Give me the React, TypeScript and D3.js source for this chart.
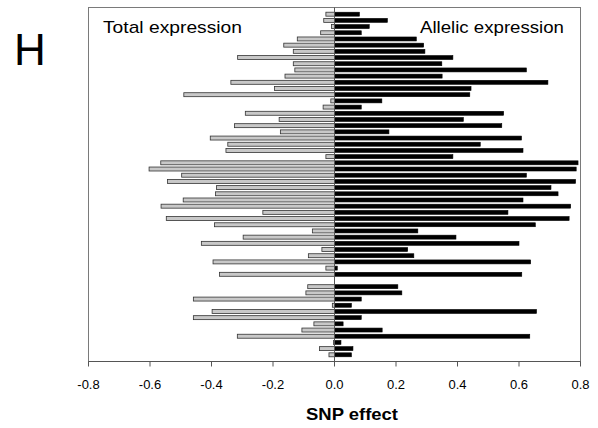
import React from "react";
import * as d3 from "d3";

const totalExpression: (number | null)[] = [
  -0.028, -0.035, -0.010, -0.045, -0.121, -0.165, -0.134, -0.315, -0.134, -0.129,
  -0.161, -0.337, -0.195, -0.490, -0.012, -0.037, -0.290, -0.180, -0.325, -0.176,
  -0.404, -0.347, -0.353, -0.028, -0.565, -0.603, -0.497, -0.543, -0.384, -0.387,
  -0.492, -0.564, -0.233, -0.547, -0.390, -0.072, -0.297, -0.433, -0.041, -0.085,
  -0.395, -0.028, -0.374, null, -0.087, -0.093, -0.459, -0.007, -0.398, -0.459,
  -0.067, -0.106, -0.316, -0.003, -0.049, -0.018,
];
const allelicExpression: (number | null)[] = [
  0.081, 0.172, 0.113, 0.087, 0.266, 0.290, 0.294, 0.385, 0.349, 0.624,
  0.350, 0.694, 0.444, 0.440, 0.154, 0.087, 0.550, 0.419, 0.544, 0.177,
  0.608, 0.474, 0.613, 0.385, 0.792, 0.786, 0.624, 0.784, 0.704, 0.727,
  0.613, 0.768, 0.564, 0.763, 0.653, 0.271, 0.395, 0.600, 0.238, 0.258,
  0.638, 0.009, 0.609, null, 0.206, 0.219, 0.087, 0.055, 0.657, 0.087,
  0.028, 0.155, 0.635, 0.021, 0.060, 0.055,
];
const xTicks = [-0.8, -0.6, -0.4, -0.2, 0, 0.2, 0.4, 0.6, 0.8];

export default function App() {
  const W = 598, H = 428;
  const left = 88.5, right = 580.5, top = 7.5, bottom = 361.5;
  const x = d3.scaleLinear().domain([-0.8, 0.8]).range([left, right]);
  const rows = totalExpression.map((_, i) => i);
  const y = d3.scaleBand<number>().domain(rows).range([top, bottom]).paddingInner(0.36).paddingOuter(0.76);
  const font = "Arial, 'Liberation Sans', sans-serif";
  return (
    <svg width={W} height={H} style={{ position: "absolute", left: 0, top: 0, background: "#fff" }}>
      <text x={14} y={65} fontFamily={font} fontSize={44} fill="#000">H</text>
      <rect x={left} y={top} width={right - left} height={bottom - top} fill="none" stroke="#7a7a7a" strokeWidth={1} />
      {rows.map((i) => {
        const v = totalExpression[i];
        if (v == null) return null;
        return (
          <rect key={"t" + i} x={x(v)} y={y(i)!} width={x(0) - x(v)} height={y.bandwidth()}
            fill="#c8c8c8" stroke="#333" strokeWidth={0.8} />
        );
      })}
      {rows.map((i) => {
        const v = allelicExpression[i];
        if (v == null) return null;
        return (
          <rect key={"a" + i} x={x(0)} y={y(i)!} width={x(v) - x(0)} height={y.bandwidth()}
            fill="#000" stroke="#000" strokeWidth={0.6} />
        );
      })}
      <line x1={x(0)} x2={x(0)} y1={top} y2={bottom} stroke="#555" strokeWidth={1} />
      <line x1={left} x2={right} y1={bottom} y2={bottom} stroke="#555" strokeWidth={1} />
      {xTicks.map((t) => (
        <g key={t}>
          <line x1={x(t)} x2={x(t)} y1={bottom} y2={bottom + 5} stroke="#555" strokeWidth={1} />
          <text x={x(t)} y={389} textAnchor="middle" fontFamily={font} fontSize={13} fill="#000">
            {t.toFixed(1)}
          </text>
        </g>
      ))}
      <text x={103} y={32.5} fontFamily={font} fontSize={17} fill="#000" textLength={139} lengthAdjust="spacingAndGlyphs">Total expression</text>
      <text x={420} y={32.5} fontFamily={font} fontSize={17} fill="#000" textLength={144} lengthAdjust="spacingAndGlyphs">Allelic expression</text>
      <text x={306} y={420} fontFamily={font} fontSize={17} fontWeight="bold" fill="#000" textLength={92} lengthAdjust="spacingAndGlyphs">SNP effect</text>
    </svg>
  );
}
